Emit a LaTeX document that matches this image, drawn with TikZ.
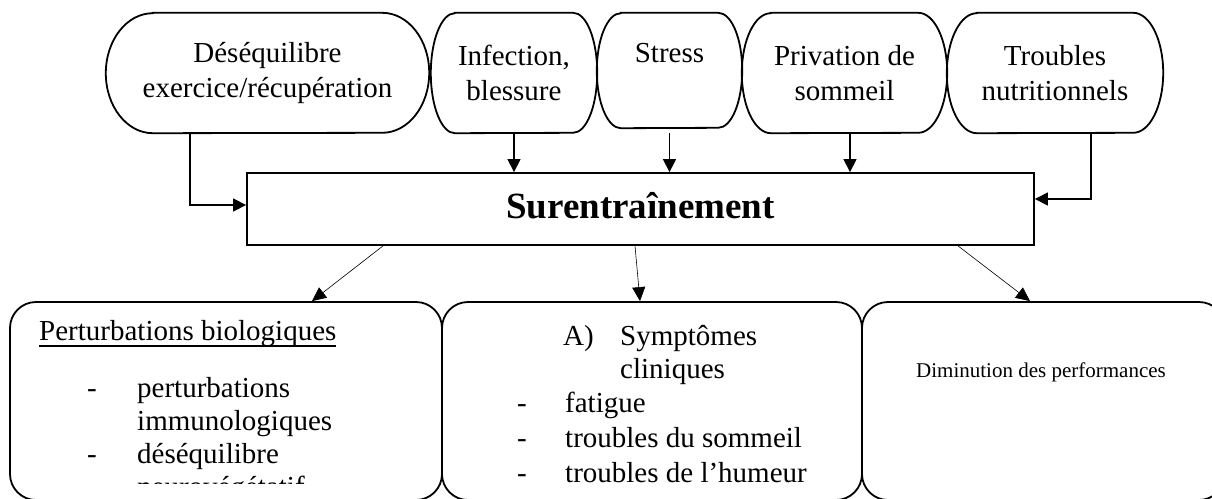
\documentclass[tikz,border=0pt]{standalone}
\usepackage{fontspec}
\setmainfont{Liberation Serif}
\usetikzlibrary{arrows.meta}

% word-style underline, close to the baseline
\newcommand{\souligne}[1]{\setbox0\hbox{#1}\rlap{\rule[-6.8pt]{\wd0}{1.5pt}}\box0}
% cause box with elliptic ends: node, x radius, y radius
\newcommand{\capsule}[3]{%
  \draw[line width=1.8pt] ([xshift=#2]#1.north west) -- ([xshift=-#2]#1.north east)
    arc[start angle=90, end angle=-90, x radius=#2, y radius=#3]
    -- ([xshift=#2]#1.south west)
    arc[start angle=270, end angle=90, x radius=#2, y radius=#3] -- cycle;}

\begin{document}
\begin{tikzpicture}[x=1pt, y=-1pt,
    cause/.style={inner sep=0pt, align=center, font=\fontsize{29}{35}\selectfont},
    hub/.style={draw, line width=1.8pt, inner sep=0pt, minimum width=787pt,
      minimum height=72pt, font=\fontsize{37}{40}\selectfont\bfseries},
    effect/.style={draw, line width=1.8pt, rounded corners=26pt, inner sep=0pt,
      minimum height=198pt},
    txt/.style={anchor=base west, inner sep=0pt, font=\fontsize{29}{33}\selectfont},
    flow/.style={line width=1.3pt, -{Triangle[length=13pt,width=13pt]}},
    fine/.style={line width=0.6pt, -{Triangle[length=14pt,width=13pt]}}]

  \useasboundingbox (0,0) rectangle (1212,498);
  \clip (0,0) rectangle (1212,498);

  % Causes on top
  \node[cause, minimum width=323pt, minimum height=120pt] (deseq) at (267.5,73) {Déséquilibre\\exercice/récupération};
  \node[cause, minimum width=166pt, minimum height=120pt] (infect) at (514,73) {Infection,\\blessure};
  \node[cause, minimum width=145pt, minimum height=115pt] (stress) at (669.5,70.5) {Stress\\\mbox{}};
  \node[cause, minimum width=205pt, minimum height=120pt] (priv) at (844.5,73) {Privation de\\sommeil};
  \node[cause, minimum width=216pt, minimum height=120pt] (nutri) at (1055,73) {Troubles\\nutritionnels};
  \capsule{deseq}{47pt}{60pt}
  \capsule{infect}{24pt}{60pt}
  \capsule{stress}{24pt}{57.5pt}
  \capsule{priv}{29pt}{60pt}
  \capsule{nutri}{30pt}{60pt}

  % Central box
  \node[hub, text height=28pt, text depth=10pt] (sur) at (640.5,209) {Surentraînement};

  % Consequences below
  \node[effect, minimum width=432pt] (bio) at (226,401) {};
  \node[effect, minimum width=420pt] (clin) at (652,401) {};
  \node[effect, minimum width=363pt] (perf) at (1043.5,401) {};

  \node[txt] (biotitle) at (39,340) {\souligne{Perturbations biologiques}};
  \node[txt] (biodash1) at (87,397) {-};
  \node[txt] (bioline1) at (137,397) {perturbations};
  \node[txt] (bioline2) at (137,430) {immunologiques};
  \node[txt] (biodash2) at (87,463) {-};
  \node[txt] (bioline3) at (137,463) {déséquilibre};
  \begin{scope}
    \clip (0,300) rectangle (442,483);
    \node[txt] (bioline4) at (137,496) {neurovégétatif};
  \end{scope}

  \node[txt] (clinnum) at (563,345) {A)};
  \node[txt] (clintitle) at (620,345) {Symptômes};
  \node[txt] (clintitle2) at (620,378) {cliniques};
  \node[txt] (clindash1) at (517,412) {-};
  \node[txt] (clinline1) at (565,412) {fatigue};
  \node[txt] (clindash2) at (517,447) {-};
  \node[txt] (clinline2) at (565,447) {troubles du sommeil};
  \node[txt] (clindash3) at (517,482) {-};
  \node[txt] (clinline3) at (565,482) {troubles de l’humeur};

  \node[anchor=base, inner sep=0pt, font=\fontsize{21}{24}\selectfont] (perftxt) at (1041,377) {Diminution des performances};

  % Arrows into the central box
  \coordinate (privout) at ([xshift=5.5pt]priv.south);
  \draw[flow] ([xshift=-77.5pt]deseq.south) |- ([yshift=4pt]sur.west);
  \draw[flow] (infect.south) -- (infect.south |- sur.north);
  \draw[flow] ([yshift=-5pt]stress.south) -- (stress.south |- sur.north);
  \draw[flow] (privout) -- (privout |- sur.north);
  \draw[flow] ([xshift=36pt]nutri.south) |- ([yshift=10pt]sur.east);

  % Arrows out of it
  \draw[fine] ([xshift=-257.5pt]sur.south) -- ([xshift=86pt]bio.north);
  \draw[fine] ([xshift=-5.5pt]sur.south) -- ([xshift=-12pt]clin.north);
  \draw[fine] ([xshift=317.5pt]sur.south) -- ([xshift=-13.5pt]perf.north);
\end{tikzpicture}
\end{document}
